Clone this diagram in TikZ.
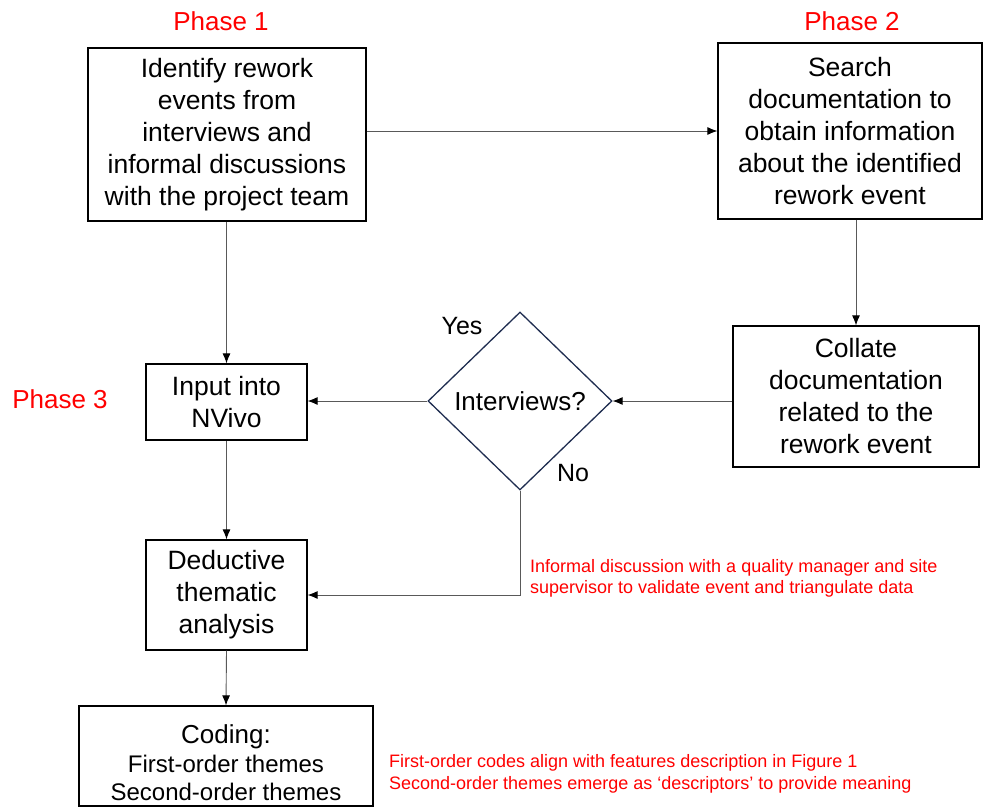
\documentclass[tikz,border=0pt]{standalone}
\usepackage{fontspec}
\setmainfont{Liberation Sans}
\usetikzlibrary{arrows}
\usetikzlibrary{arrows.meta}
\usetikzlibrary{shapes.geometric}
\definecolor{navy}{RGB}{31,45,80}
\tikzstyle{blk}=[draw=black, line width=1.3pt, align=center, inner sep=0pt, font={\fontsize{26.5}{32}\selectfont}]
\tikzstyle{dec}=[draw=navy, line width=1.3pt, diamond, aspect=1, inner sep=0pt, font={\fontsize{26}{30}\selectfont}]
\tikzstyle{line}=[-{Latex[length=10pt,width=8pt,black]}, draw=black!65, line width=0.9pt]
\tikzstyle{phase}=[text=red, font={\fontsize{26}{30}\selectfont}]
\tikzstyle{note}=[text=red, align=left, anchor=west, inner sep=0pt, font={\fontsize{18}{21.5}\selectfont}]

\begin{document}
\begin{tikzpicture}[x=1pt,y=-1pt]
  \useasboundingbox (0,0) rectangle (983,808);

    \node [blk, minimum width=278, minimum height=173] (ident) at (227,134.5) {Identify rework\\events from\\interviews and\\informal discussions\\with the project team};
    \node [blk, minimum width=264, minimum height=176] (search) at (850,131) {Search\\documentation to\\obtain information\\about the identified\\rework event};
    \node [blk, minimum width=246, minimum height=141] (collate) at (856,396.5) {Collate\\documentation\\related to the\\rework event};
    \node [dec, minimum width=184, minimum height=178] (intv) at (520,401) {Interviews?};
    \node [blk, minimum width=161, minimum height=76] (nvivo) at (226.5,402) {Input into\\NVivo};
    \node [blk, minimum width=161, minimum height=110] (deduct) at (226.5,595) {Deductive\\thematic\\analysis};
    \node [blk, minimum width=294, minimum height=100, font={\fontsize{24}{28.5}\selectfont}] (coding) at (226,756) {{\fontsize{26}{28}\selectfont\rule{0pt}{33pt}Coding:}\\First-order themes\\Second-order themes};

    % phase labels
    \node [phase] (ph1) at (221,21) {Phase 1};
    \node [phase] (ph2) at (852,21) {Phase 2};
    \node [phase] (ph3) at (60,399) {Phase 3};

    \node [font={\fontsize{25}{30}\selectfont}] (yes) at (462,326) {Yes};
    \node [font={\fontsize{25}{30}\selectfont}] (no) at (573,473) {No};

    \node [note] (n1) at (530,578.5) {Informal discussion with a quality manager and site\\supervisor to validate event and triangulate data};
    \node [note] (n2) at (389,774) {First-order codes align with features description in Figure 1\\Second-order themes emerge as `descriptors' to provide meaning};

    \draw[line] (ident.east |- search.west) -- (search.west);
    \draw[line] (ident.south -| nvivo.north) -- (nvivo.north);
    \draw[line] (search.south -| collate.north) -- (collate.north);
    \draw[line] (collate.west |- intv.east) -- (intv.east);
    \draw[line] (intv.west) -- (nvivo.east |- intv.west);
    \draw[line] (intv.south) |- (deduct.east);
    \draw[line] (nvivo.south) -- (deduct.north);
    \draw[line] (deduct.south) -- (coding.north);
\end{tikzpicture}
\end{document}
